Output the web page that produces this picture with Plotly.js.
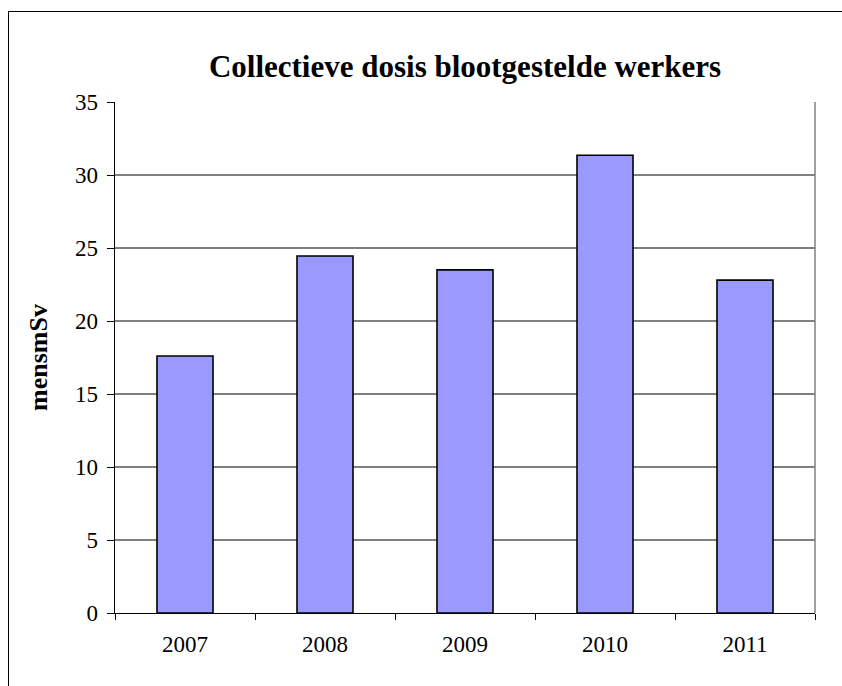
<!DOCTYPE html>
<html>
<head>
<meta charset="utf-8">
<script src="https://cdn.plot.ly/plotly-3.0.1.min.js"></script>
<style>
  html, body { margin: 0; padding: 0; background: #fff; overflow: hidden; }
  #wrap { position: relative; width: 842px; height: 686px; overflow: hidden; }
  #chart { width: 842px; height: 686px; }
  #frame { position: absolute; left: 8px; top: 11px; width: 900px; height: 900px;
           border-left: 1.3px solid #000; border-top: 1.3px solid #000; pointer-events: none; }
</style>
</head>
<body>
<div id="wrap"><div id="chart"></div><div id="frame"></div></div>
<script>
const years = ['2007', '2008', '2009', '2010', '2011'];
const dose = [17.6, 24.45, 23.5, 31.35, 22.8];
const yTicks = [0, 5, 10, 15, 20, 25, 30, 35];

const W = 842, H = 686;
const M = { l: 115, r: 27, t: 102, b: 73 };

const font = '"Liberation Serif", "Times New Roman", Times, serif';

const trace = {
  type: 'bar',
  x: years,
  y: dose,
  width: 0.4,
  marker: { color: '#9999FF', line: { color: '#000000', width: 1.6 } },
  hoverinfo: 'x+y'
};

const layout = {
  width: W, height: H,
  margin: M,
  paper_bgcolor: '#ffffff',
  plot_bgcolor: '#ffffff',
  showlegend: false,
  font: { family: font, color: '#000' },
  title: {
    text: '<b>Collectieve dosis blootgestelde werkers</b>',
    font: { family: font, size: 31, color: '#000' },
    xref: 'paper', x: 0.5, xanchor: 'center',
    yref: 'container', y: 1 - 66 / H, yanchor: 'middle'
  },
  xaxis: {
    type: 'category',
    tickvals: years,
    ticktext: years,
    showline: true, linecolor: '#000', linewidth: 1.3,
    ticks: 'outside', tickson: 'boundaries', ticklen: 6, tickcolor: '#000', tickwidth: 1,
    showgrid: false,
    tickfont: { family: font, size: 23, color: '#000' },
    ticklabelstandoff: 10,
    fixedrange: true
  },
  yaxis: {
    range: [0, 35],
    tickvals: yTicks,
    ticktext: yTicks.map(String),
    showline: true, linecolor: '#000', linewidth: 1.3,
    ticks: 'outside', ticklen: 7, tickcolor: '#000', tickwidth: 1,
    showgrid: true, gridcolor: '#808080', gridwidth: 1.2,
    zeroline: false,
    tickfont: { family: font, size: 23, color: '#000' },
    ticklabelstandoff: 4,
    title: {
      text: '<b>mensmSv</b>',
      font: { family: font, size: 26, color: '#000' },
      standoff: 20
    },
    fixedrange: true
  },
  shapes: [
    // right plot-area border (gray)
    { type: 'line', xref: 'paper', yref: 'paper', x0: 1, x1: 1, y0: 0, y1: 1,
      line: { color: '#808080', width: 1.5 } }
  ]
};

Plotly.newPlot('chart', [trace], layout, { displayModeBar: false, staticPlot: true });
</script>
</body>
</html>
